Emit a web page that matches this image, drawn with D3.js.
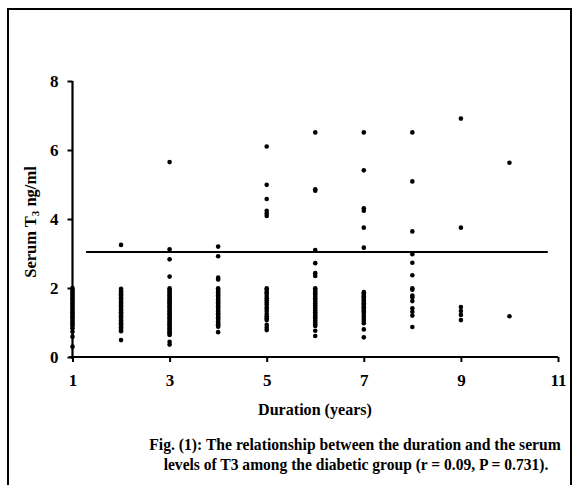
<!DOCTYPE html>
<html><head><meta charset="utf-8">
<script src="https://cdn.jsdelivr.net/npm/d3@7"></script>
<style>body{margin:0;background:#fff}svg{display:block}</style>
</head><body>
<script>
// Data: duration (years) -> serum T3 values (ng/ml)
const durations = [1,2,3,4,5,6,7,8,9,10];
const t3_d1 = [2.0,1.95,1.9,1.85,1.8,1.75,1.7,1.65,1.6,1.55,1.5,1.45,1.4,1.35,1.3,1.25,1.2,1.15,1.1,1.05,1.0,0.95,0.9,0.83,0.73,0.59,0.3];
const t3_d2 = [3.25,1.98,1.94,1.9,1.86,1.82,1.78,1.74,1.7,1.66,1.62,1.58,1.54,1.5,1.46,1.42,1.38,1.34,1.3,1.26,1.22,1.18,1.14,1.1,1.06,1.02,0.98,0.94,0.9,0.86,0.82,0.78,0.75,0.49];
const t3_d3 = [5.65,3.12,2.83,2.33,1.99,1.95,1.91,1.87,1.83,1.79,1.75,1.71,1.67,1.63,1.59,1.55,1.51,1.47,1.43,1.39,1.35,1.31,1.27,1.23,1.19,1.15,1.11,1.07,1.03,0.99,0.95,0.91,0.87,0.83,0.79,0.75,0.71,0.67,0.64,0.44,0.36];
const t3_d4 = [3.2,2.92,2.3,2.25,1.99,1.95,1.91,1.87,1.83,1.79,1.75,1.71,1.67,1.63,1.59,1.55,1.51,1.47,1.43,1.39,1.35,1.31,1.27,1.23,1.19,1.15,1.11,1.07,1.03,0.99,0.95,0.91,0.88,0.72];
const t3_d5 = [6.1,4.99,4.58,4.24,4.16,4.09,1.99,1.94,1.88,1.83,1.77,1.7,1.64,1.58,1.52,1.45,1.4,1.33,1.25,1.18,1.12,1.07,0.93,0.85,0.78];
const t3_d6 = [6.51,4.86,4.82,3.1,2.72,2.43,2.35,1.99,1.95,1.9,1.85,1.8,1.75,1.7,1.65,1.6,1.55,1.5,1.45,1.4,1.35,1.3,1.25,1.2,1.15,1.1,1.05,1.0,0.95,0.9,0.76,0.61];
const t3_d7 = [6.51,5.41,4.31,4.24,3.75,3.17,1.88,1.84,1.8,1.76,1.72,1.68,1.64,1.6,1.56,1.52,1.48,1.44,1.4,1.36,1.32,1.28,1.22,1.16,1.1,1.04,0.98,0.8,0.57];
const t3_d8 = [6.51,5.09,3.64,2.98,2.73,2.37,1.99,1.95,1.78,1.73,1.62,1.41,1.31,1.2,0.87];
const t3_d9 = [6.91,3.75,1.45,1.33,1.22,1.07];
const t3_d10 = [5.63,1.18];
const t3Series = [t3_d1,t3_d2,t3_d3,t3_d4,t3_d5,t3_d6,t3_d7,t3_d8,t3_d9,t3_d10];
const refLineX = [1.28, 10.79];
const refLineY = 3.04;
const xTicks = [1,3,5,7,9,11];
const yTicks = [0,2,4,6,8];
const xTitle = "Duration (years)";
const caption1 = "Fig. (1):  The relationship between the duration and the serum";
const caption2 = "levels of T3 among the diabetic group (r = 0.09, P = 0.731).";

const W = 579, H = 485;
const svg = d3.select("body").append("svg").attr("width", W).attr("height", H);
const font = "'Liberation Serif','Times New Roman',serif";

// outer border
svg.append("rect").attr("x", 8).attr("y", 9).attr("width", 563).attr("height", 490)
  .attr("fill", "none").attr("stroke", "#000").attr("stroke-width", 2);

const x = d3.scaleLinear().domain([1, 11]).range([72.5, 558]);
const y = d3.scaleLinear().domain([0, 8]).range([357, 81]);

const points = [];
durations.forEach((d, i) => t3Series[i].forEach(v => points.push([d, v])));

// reference line
svg.append("line")
  .attr("x1", x(refLineX[0])).attr("x2", x(refLineX[1]))
  .attr("y1", y(refLineY)).attr("y2", y(refLineY))
  .attr("stroke", "#000").attr("stroke-width", 2);

// points
svg.append("g").selectAll("circle").data(points).join("circle")
  .attr("cx", d => x(d[0])).attr("cy", d => y(d[1])).attr("r", 2.3).attr("fill", "#000");

// axes
const xAxis = svg.append("g").attr("transform", `translate(0,${y(0)})`)
  .call(d3.axisBottom(x).tickValues(xTicks).tickSize(5).tickPadding(12).tickFormat(d3.format("d")));
const yAxis = svg.append("g").attr("transform", `translate(${x(1)},0)`)
  .call(d3.axisLeft(y).tickValues(yTicks).tickSize(5).tickPadding(9).tickFormat(d3.format("d")));
[xAxis, yAxis].forEach(a => {
  a.select(".domain").attr("stroke-width", 2.2).attr("stroke", "#000");
  a.selectAll(".tick line").attr("stroke-width", 2).attr("stroke", "#000");
  a.selectAll(".tick text").attr("font-family", font).attr("font-weight", "bold")
    .attr("font-size", 17).attr("fill", "#000");
});
xAxis.select(".domain").attr("d", `M${x(1)-3},0H${x(11)}`);
yAxis.select(".domain").attr("d", `M0,${y(8)}V${y(0)+2}`);

// condensed text helper: scales horizontally to a target width
function condensed(str, cx, by, size, target) {
  const g = svg.append("g");
  const t = g.append("text").attr("text-anchor", "middle")
    .attr("font-family", font).attr("font-weight", "bold").attr("font-size", size).text(str);
  const w = t.node().getComputedTextLength();
  g.attr("transform", `translate(${cx},${by}) scale(${target / w},1)`);
  return t;
}

// axis titles
condensed(xTitle, 315, 415, 16, 114);

const yt = svg.append("text").attr("transform", "translate(36,222) rotate(-90)")
  .attr("text-anchor", "middle").attr("font-family", font).attr("font-weight", "bold").attr("font-size", 16.5);
yt.append("tspan").text("Serum T");
yt.append("tspan").attr("font-size", 11).attr("dy", 3).text("3");
yt.append("tspan").attr("dy", -3).text(" ng/ml");

// caption
condensed(caption1, 355, 450, 17, 412);
condensed(caption2, 356, 470, 17, 385);
</script>
</body></html>
